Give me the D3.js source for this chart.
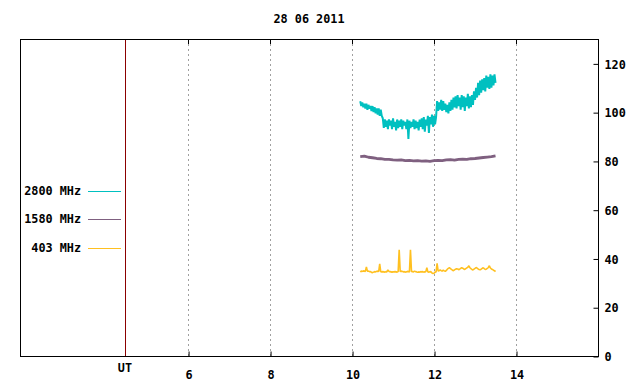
<!DOCTYPE html>
<html>
<head>
<meta charset="utf-8">
<script src="https://cdn.jsdelivr.net/npm/d3@7"></script>
<style>
  body { margin: 0; background: #fff; }
  text { font-family: "DejaVu Sans Mono", "Liberation Mono", monospace; font-weight: bold; font-size: 11.8px; fill: #000; }
</style>
</head>
<body>
<div id="chart"></div>
<script>
// title, tick values, legend
const title = "28 06 2011";
const xTicks = [6, 8, 10, 12, 14];
const yTicks = [0, 20, 40, 60, 80, 100, 120];
const utHour = 4.46;
const seriesNames = ["2800 MHz", "1580 MHz", "403 MHz"];
const seriesColors = ["#00c0c0", "#7f6080", "#ffc020"];

// 2800 MHz, one sample every 0.025 h from 10.20 UT
const start2800 = 10.2, step2800 = 0.025;
const flux2800 = [
  104.5, 102.5, 104, 102, 103.5, 101.5, 103.5, 101, 103, 101.5,
  102.5, 100.5, 102.5, 100, 102, 99.5, 101.5, 99, 101.5, 98.5,
  101, 98.5, 97.5, 93.5, 97, 94, 96.5, 93, 97, 94.5,
  96.5, 93, 97.5, 94, 96, 92.5, 97, 93.5, 96.5, 94,
  97, 93, 96.5, 94.5, 96, 93, 97, 89, 96.5, 93.5,
  96, 94, 97, 93, 96.5, 93.5, 96, 92.5, 97, 94,
  97.5, 93, 98, 92, 97, 94.5, 98.5, 91.5, 98, 95,
  99, 94, 98.5, 95, 98, 104.5, 100.5, 104, 101, 105,
  100.5, 104.5, 101, 103.5, 100, 103, 99.5, 104, 100.5, 105,
  101, 106, 102, 106.5, 101.5, 107, 102.5, 106, 101, 107,
  102, 106.5, 100.5, 106, 102.5, 107.5, 101.5, 106.5, 102, 107,
  103, 108.5, 105, 110, 106, 112, 107, 113, 108, 113.5,
  109, 114, 108.5, 115, 110, 114.5, 109.5, 115.5, 110, 115,
  111, 115.5, 112
];

// 1580 MHz, one sample every 0.1 h from 10.20 UT
const start1580 = 10.2, step1580 = 0.1;
const flux1580 = [
  81.8, 82.0, 81.5, 81.3, 81.0, 80.9, 80.6, 80.6, 80.4, 80.3,
  80.4, 80.1, 80.2, 80.0, 80.1, 79.9, 80.0, 79.8, 80.1, 80.2,
  80.1, 80.4, 80.5, 80.3, 80.6, 80.7, 80.6, 80.9, 81.0, 81.2,
  81.4, 81.6, 81.8, 82.1
];

// 403 MHz, one sample every 0.025 h from 10.20 UT
const start403 = 10.2, step403 = 0.025;
const flux403 = [
  34.5, 34.8, 34.7, 34.9, 34.8, 34.7, 36.5, 34.8, 34.8, 34.6,
  34.6, 34.3, 34.2, 34.4, 34.6, 34.5, 34.7, 34.8, 34.6, 37.8,
  34.6, 34.5, 34.6, 34.5, 34.4, 34.6, 34.5, 35.3, 34.7, 34.6,
  34.5, 34.4, 34.5, 34.5, 34.6, 34.5, 34.4, 34.6, 43.6, 34.6,
  34.8, 34.7, 34.5, 34.6, 34.4, 34.5, 34.7, 34.6, 34.5, 43.6,
  34.7, 34.6, 34.5, 34.8, 34.6, 34.5, 34.3, 34.5, 34.4, 34.6,
  34.5, 34.6, 34.4, 34.5, 34.6, 36.2, 34.5, 34.4, 34.6, 34.5,
  34.0, 33.8, 33.9, 34.4, 34.5, 38.0, 34.8, 35.0, 35.3, 35.0,
  34.8, 35.2, 34.9, 34.7, 35.1, 35.6, 35.9, 36.3, 35.8, 35.5,
  35.2, 35.0, 35.3, 35.6, 35.8, 35.7, 35.4, 35.6, 35.9, 36.2,
  36.0, 35.7, 35.5, 35.8, 36.1, 36.4, 37.0, 36.2, 35.8, 35.5,
  35.3, 35.6, 35.9, 36.3, 36.0, 35.7, 35.5, 35.4, 35.6, 35.9,
  36.2, 35.8, 35.5, 35.6, 35.9, 36.3, 37.0, 36.1, 35.7, 35.5,
  35.2, 35.0, 34.6
];

const width = 640, height = 384;
const plot = { left: 20, right: 598, top: 39, bottom: 356 };

const svg = d3.select("#chart").append("svg")
    .attr("width", width)
    .attr("height", height);

const x = d3.scaleLinear().domain([1.9, 16]).range([plot.left, plot.right]);
const y = d3.scaleLinear().domain([0, 130]).range([plot.bottom, plot.top]);

// dotted grid
svg.append("g")
    .selectAll("line")
    .data(xTicks)
    .enter()
    .append("line")
    .attr("x1", d => Math.round(x(d)) + 0.5)
    .attr("x2", d => Math.round(x(d)) + 0.5)
    .attr("y1", plot.top)
    .attr("y2", plot.bottom)
    .attr("stroke", "#a0a0a0")
    .attr("stroke-dasharray", "2,3");

// UT marker
svg.append("line")
    .attr("x1", Math.round(x(utHour)) + 0.5)
    .attr("x2", Math.round(x(utHour)) + 0.5)
    .attr("y1", plot.top)
    .attr("y2", plot.bottom)
    .attr("stroke", "#8b0000");

// series
const toPoints = (vals, t0, dt) => vals.map((v, i) => [t0 + i * dt, v]);
const line = d3.line().x(d => x(d[0])).y(d => y(d[1]));

const series = [
  { pts: toPoints(flux2800, start2800, step2800), width: 2 },
  { pts: toPoints(flux1580, start1580, step1580), width: 2.8 },
  { pts: toPoints(flux403, start403, step403), width: 1.6 }
];

series.forEach((s, i) => {
    svg.append("path")
        .datum(s.pts)
        .attr("fill", "none")
        .attr("stroke", seriesColors[i])
        .attr("stroke-width", s.width)
        .attr("stroke-linejoin", "bevel")
        .attr("d", line);
});

// border
svg.append("rect")
    .attr("x", plot.left + 0.5)
    .attr("y", plot.top + 0.5)
    .attr("width", plot.right - plot.left)
    .attr("height", plot.bottom - plot.top)
    .attr("fill", "none")
    .attr("stroke", "#000");

// right axis
const yAxis = svg.append("g")
    .attr("transform", `translate(${plot.right + 0.5},0.5)`)
    .call(d3.axisRight(y).tickValues(yTicks).tickSize(-5).tickPadding(6).tickFormat(d3.format("d")));
yAxis.select(".domain").remove();
yAxis.selectAll("text").attr("dy", "0.35em");

// bottom axis
const xAxis = svg.append("g")
    .attr("transform", `translate(0.5,${plot.bottom + 0.5})`)
    .call(d3.axisBottom(x).tickValues(xTicks).tickSize(-5).tickPadding(14).tickFormat(d3.format("d")));
xAxis.select(".domain").remove();
xAxis.selectAll("text").attr("dy", "0.71em");

// mirrored ticks on top
svg.append("g")
    .selectAll("line")
    .data(xTicks)
    .enter()
    .append("line")
    .attr("x1", d => Math.round(x(d)) + 0.5)
    .attr("x2", d => Math.round(x(d)) + 0.5)
    .attr("y1", plot.top)
    .attr("y2", plot.top + 5)
    .attr("stroke", "#000");

svg.selectAll(".tick text").attr("font-family", null).attr("font-size", null);

// UT label
svg.append("text")
    .attr("x", x(utHour))
    .attr("y", 372)
    .attr("text-anchor", "middle")
    .text("UT");

// title
svg.append("text")
    .attr("x", 309)
    .attr("y", 23)
    .attr("text-anchor", "middle")
    .text(title);

// legend
const legendY = [191, 219, 248];
const legend = svg.append("g");
seriesNames.forEach((name, i) => {
    legend.append("text")
        .attr("x", 81)
        .attr("y", legendY[i] + 4)
        .attr("text-anchor", "end")
        .text(name);
    legend.append("line")
        .attr("x1", 88)
        .attr("x2", 121)
        .attr("y1", legendY[i] + 0.5)
        .attr("y2", legendY[i] + 0.5)
        .attr("stroke", seriesColors[i]);
});
</script>
</body>
</html>
